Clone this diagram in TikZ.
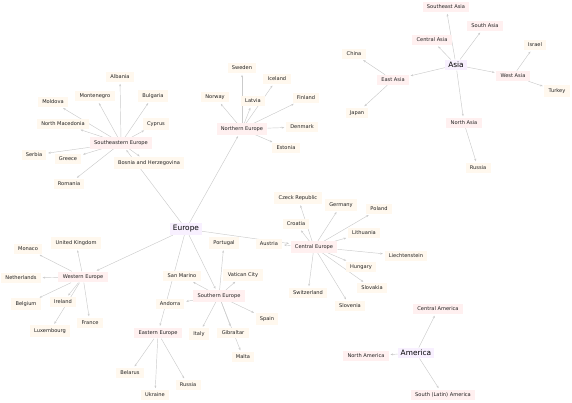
\documentclass[tikz,border=0pt]{standalone}
\usepackage{fontspec}
\setmainfont{DejaVu Sans}
\usepackage{xcolor}
\usepackage{tikz}
\usetikzlibrary{arrows.meta,backgrounds}

\definecolor{rootfill}{HTML}{F8F0FF}
\definecolor{regfill}{HTML}{FFF0F0}
\definecolor{ctyfill}{HTML}{FFF8EE}
\definecolor{linkgray}{HTML}{CBCBCB}
\definecolor{inkgray}{HTML}{202020}

\tikzset{
  root/.style={fill=rootfill, text=black, font=\fontsize{7.4}{8}\selectfont, inner xsep=3pt, inner ysep=2.5pt},
  region/.style={fill=regfill, font=\fontsize{5.1}{6}\selectfont, inner xsep=4.3pt, inner ysep=3.1pt},
  country/.style={fill=ctyfill, font=\fontsize{5.1}{6}\selectfont, inner xsep=4.3pt, inner ysep=3.1pt},
  link/.style={draw=linkgray, line width=0.45pt, -{Stealth[length=2.6pt,width=2pt]}, shorten >=1.5pt}
}

\begin{document}
\begin{tikzpicture}[x=1pt, y=-1pt, text=inkgray]
  \useasboundingbox (0,0) rectangle (572,403);

  % --- continents ---
  \node[root] (eur) at (186,229) {Europe};
  \node[root] (asi) at (456,65)  {Asia};
  \node[root] (ame) at (416,353) {America};

  % --- regions ---
  \node[region] (seu) at (121,143) {Southeastern Europe};
  \node[region] (neu) at (242,129) {Northern Europe};
  \node[region] (weu) at (83,277)  {Western Europe};
  \node[region] (seur) at (219,296) {Southern Europe};
  \node[region] (eeu) at (158,333) {Eastern Europe};
  \node[region] (ceu) at (314,247) {Central Europe};
  \node[region] (eas) at (393,80)  {East Asia};
  \node[region] (cas) at (432,40)  {Central Asia};
  \node[region] (sea) at (446,7)   {Southeast Asia};
  \node[region] (sas) at (485,26)  {South Asia};
  \node[region] (was) at (513,76)  {West Asia};
  \node[region] (nas) at (464,123) {North Asia};
  \node[region] (cam) at (438,309) {Central America};
  \node[region] (nam) at (366,356) {North America};
  \node[region] (sam) at (443,395) {South (Latin) America};

  % --- southeastern europe ---
  \node[country] (alb) at (120,77)  {Albania};
  \node[country] (mne) at (95,96)   {Montenegro};
  \node[country] (bgr) at (153,96)  {Bulgaria};
  \node[country] (mda) at (53,102)  {Moldova};
  \node[country] (mkd) at (63,124)  {North Macedonia};
  \node[country] (cyp) at (156,124) {Cyprus};
  \node[country] (srb) at (34,155)  {Serbia};
  \node[country] (grc) at (68,159)  {Greece};
  \node[country] (bih) at (149,163) {Bosnia and Herzegovina};
  \node[country] (rou) at (69,184)  {Romania};

  % --- northern europe ---
  \node[country] (swe) at (242,68)  {Sweden};
  \node[country] (isl) at (277,79)  {Iceland};
  \node[country] (nor) at (215,97)  {Norway};
  \node[country] (lva) at (253,101) {Latvia};
  \node[country] (fin) at (306,98)  {Finland};
  \node[country] (dnk) at (302,127) {Denmark};
  \node[country] (est) at (286,148) {Estonia};

  % --- western europe ---
  \node[country] (gbr) at (76,243)  {United Kingdom};
  \node[country] (mco) at (28,249)  {Monaco};
  \node[country] (nld) at (21,278)  {Netherlands};
  \node[country] (bel) at (26,304)  {Belgium};
  \node[country] (irl) at (63,302)  {Ireland};
  \node[country] (fra) at (90,323)  {France};
  \node[country] (lux) at (50,331)  {Luxembourg};

  % --- southern europe ---
  \node[country] (prt) at (224,243) {Portugal};
  \node[country] (smr) at (182,276) {San Marino};
  \node[country] (vat) at (243,275) {Vatican City};
  \node[country] (and) at (170,304) {Andorra};
  \node[country] (esp) at (267,319) {Spain};
  \node[country] (ita) at (199,334) {Italy};
  \node[country] (gib) at (233,333) {Gibraltar};
  \node[country] (mlt) at (243,357) {Malta};

  % --- eastern europe ---
  \node[country] (blr) at (130,373) {Belarus};
  \node[country] (ukr) at (155,395) {Ukraine};
  \node[country] (rus) at (188,385) {Russia};

  % --- central europe ---
  \node[country] (cze) at (298,198) {Czeck Republic};
  \node[country] (deu) at (341,205) {Germany};
  \node[country] (pol) at (379,209) {Poland};
  \node[country] (hrv) at (296,224) {Croatia};
  \node[country] (ltu) at (364,233) {Lithuania};
  \node[country] (aut) at (269,244) {Austria};
  \node[country] (lie) at (406,256) {Liechtenstein};
  \node[country] (hun) at (361,267) {Hungary};
  \node[country] (svk) at (372,288) {Slovakia};
  \node[country] (che) at (308,293) {Switzerland};
  \node[country] (svn) at (350,306) {Slovenia};

  % --- asia ---
  \node[country] (chn) at (354,54)  {China};
  \node[country] (jpn) at (357,113) {Japan};
  \node[country] (isr) at (535,45)  {Israel};
  \node[country] (tur) at (557,91)  {Turkey};
  \node[country] (rusa) at (478,168) {Russia};

  % --- links, behind the boxes ---
  \begin{scope}[on background layer]
    \foreach \c in {seu,neu,weu,seur,eeu,ceu} \draw[link] (eur) -- (\c);
    \foreach \c in {eas,cas,sea,sas,was,nas} \draw[link] (asi) -- (\c);
    \foreach \c in {cam,nam,sam} \draw[link] (ame) -- (\c);
    \foreach \c in {alb,mne,bgr,mda,mkd,cyp,srb,grc,bih,rou} \draw[link] (seu) -- (\c);
    \foreach \c in {swe,isl,nor,lva,fin,dnk,est} \draw[link] (neu) -- (\c);
    \foreach \c in {gbr,mco,nld,bel,irl,fra,lux} \draw[link] (weu) -- (\c);
    \foreach \c in {prt,smr,vat,and,esp,ita,gib,mlt} \draw[link] (seur) -- (\c);
    \foreach \c in {blr,ukr,rus} \draw[link] (eeu) -- (\c);
    \foreach \c in {cze,deu,pol,hrv,ltu,aut,lie,hun,svk,che,svn} \draw[link] (ceu) -- (\c);
    \foreach \c in {chn,jpn} \draw[link] (eas) -- (\c);
    \foreach \c in {isr,tur} \draw[link] (was) -- (\c);
    \draw[link] (nas) -- (rusa);
  \end{scope}
\end{tikzpicture}
\end{document}
